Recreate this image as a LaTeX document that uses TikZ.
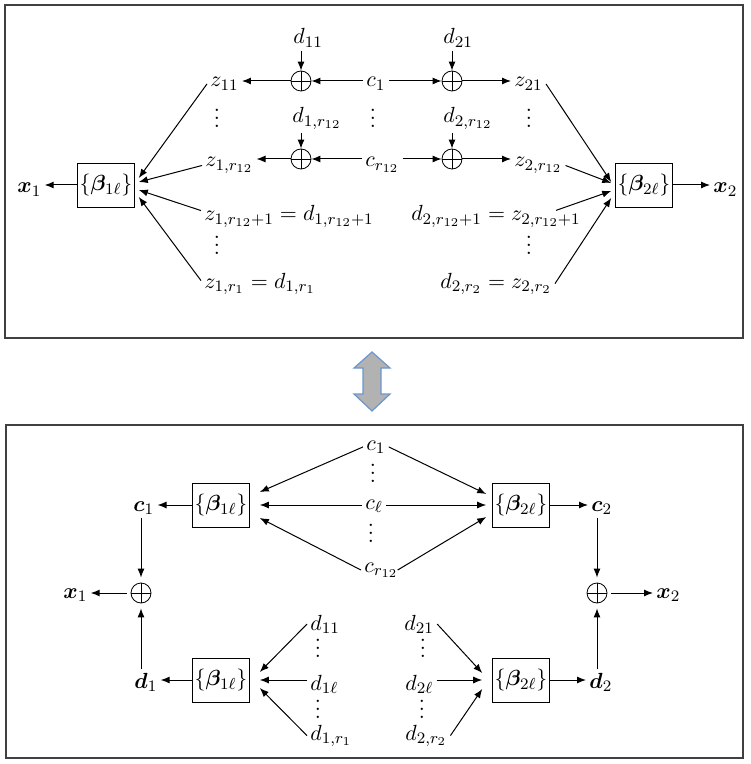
\documentclass[tikz,border=0pt]{standalone}
\usepackage{bm}
\usetikzlibrary{arrows.meta}

\begin{document}
\begin{tikzpicture}[x=0.5pt,y=0.5pt,yscale=-1,xscale=1,
  font=\fontsize{10.95}{13.6}\selectfont,
  lbl/.style={inner sep=1.5pt},
  vdotnode/.style={inner sep=0pt,anchor=base,text height=8.5pt},
  coefbox/.style={draw,minimum width=28pt,minimum height=22pt,inner sep=1pt},
  sumnode/.style={circle,draw,minimum size=10pt,inner sep=0pt,
    path picture={\draw (path picture bounding box.north) -- (path picture bounding box.south)
      (path picture bounding box.west) -- (path picture bounding box.east);}},
  conn/.style={-{Latex[length=4.5pt,width=3.5pt]},line width=0.5pt},
  frame/.style={draw={rgb, 255:red, 64; green, 64; blue, 64 },line width=0.6pt}]
\useasboundingbox (0,0) rectangle (750,764);

%Frames
\draw [frame] (5,5) rectangle (743,338);
\draw [frame] (6,425) rectangle (743,758);

%Shape: Double Arrow
\draw [draw={rgb, 255:red, 108; green, 150; blue, 205 },fill={rgb, 255:red, 178; green, 178; blue, 178 },line width=0.6pt]
  (372,352) -- (390,368) -- (381,368) -- (381,394) -- (390,394) -- (372,411)
  -- (354,394) -- (363,394) -- (363,368) -- (354,368) -- cycle ;

% ---- upper diagram ----
% Text Node
\node [lbl,anchor=base west] (d11) at (290,44) {$d_{11}$};
\node [lbl,anchor=base west] (d21) at (440,44) {$d_{21}$};
\node [lbl,anchor=base west] (z11) at (207,87) {$z_{11}$};
\node [lbl,anchor=base west] (ct1) at (363,87) {$c_1$};
\node [lbl,anchor=base west] (z21) at (511,87) {$z_{21}$};
\node [vdotnode] (vz1) at (217,128) {$\vdots$};
\node [vdotnode] (vct) at (373,128) {$\vdots$};
\node [vdotnode] (vz2) at (529,128) {$\vdots$};
\node [lbl,anchor=base west] (d1r) at (289,123) {$d_{1,r_{12}}$};
\node [lbl,anchor=base west] (d2r) at (440,123) {$d_{2,r_{12}}$};
\node [lbl,anchor=base west] (z1r) at (202,167) {$z_{1,r_{12}}$};
\node [lbl,anchor=base west] (ctr) at (362,167) {$c_{r_{12}}$};
\node [lbl,anchor=base west] (z2r) at (511,167) {$z_{2,r_{12}}$};
\node [lbl,anchor=base west] (zd1) at (201,221) {$z_{1,r_{12}+1}=d_{1,r_{12}+1}$};
\node [lbl,anchor=base east] (dz1) at (584,221) {$d_{2,r_{12}+1}=z_{2,r_{12}+1}$};
\node [vdotnode] (vzd1) at (217,255) {$\vdots$};
\node [vdotnode] (vdz1) at (529,255) {$\vdots$};
\node [lbl,anchor=base west] (zd2) at (201,288) {$z_{1,r_1}=d_{1,r_1}$};
\node [lbl,anchor=base east] (dz2) at (555,288) {$d_{2,r_2}=z_{2,r_2}$};
\node [lbl,anchor=base west] (xt1) at (14,193) {$\bm{x}_1$};
\node [lbl,anchor=base west] (xt2) at (710,193) {$\bm{x}_2$};

% Adders and boxes
\node [sumnode] (sa1) at (301,81) {};
\node [sumnode] (sb1) at (452,81) {};
\node [sumnode] (sa2) at (301,159) {};
\node [sumnode] (sb2) at (452,159) {};
\node [coefbox] (bt1) at (106,185) {$\{\bm{\beta}_{1\ell}\}$};
\node [coefbox] (bt2) at (644,185) {$\{\bm{\beta}_{2\ell}\}$};

%Straight Lines
\draw [conn] (d11.south -| sa1) -- (sa1);
\draw [conn] (d21.south -| sb1) -- (sb1);
\draw [conn] (d1r.south -| sa2) -- (sa2);
\draw [conn] (d2r.south -| sb2) -- (sb2);
\draw [conn] (ct1.west |- sa1) -- (sa1);
\draw [conn] (ct1.east |- sb1) -- (sb1);
\draw [conn] (ctr.west |- sa2) -- (sa2);
\draw [conn] (ctr.east |- sb2) -- (sb2);
\draw [conn] (sa1) -- (z11.east |- sa1);
\draw [conn] (sb1) -- (z21.west |- sb1);
\draw [conn] (sa2) -- (z1r.east |- sa2);
\draw [conn] (sb2) -- (z2r.west |- sb2);
% (yshift runs downwards here, because of yscale=-1)
\draw [conn] (z11.west) -- ([xshift=2pt,yshift=-3.5pt]bt1.east);
\draw [conn] (z1r.west) -- ([xshift=2pt,yshift=-1.5pt]bt1.east);
\draw [conn] ([yshift=-3pt]zd1.west) -- ([xshift=2pt,yshift=2.5pt]bt1.east);
\draw [conn] ([yshift=-1.5pt]zd2.west) -- ([xshift=2pt,yshift=6pt]bt1.east);
\draw [conn] (z21.east) -- ([xshift=-2pt,yshift=-1.5pt]bt2.west);
\draw [conn] (z2r.east) -- ([xshift=-2pt,yshift=-1pt]bt2.west);
\draw [conn] ([xshift=-14pt,yshift=4pt]dz1.north east) -- ([xshift=-2pt,yshift=3pt]bt2.west);
\draw [conn] (dz2.east) -- ([xshift=-2pt,yshift=6.5pt]bt2.west);
\draw [conn] (bt1.west) -- (xt1.east |- bt1.west);
\draw [conn] (bt2.east) -- (xt2.west |- bt2.east);

% ---- lower diagram ----
% Text Node
\node [lbl,anchor=base west] (cl1) at (363,450) {$c_1$};
\node [vdotnode] (vcl1) at (373,482) {$\vdots$};
\node [lbl,anchor=base west] (cll) at (362,509) {$c_\ell$};
\node [vdotnode] (vcl2) at (371,542) {$\vdots$};
\node [lbl,anchor=base west] (clr) at (361,572) {$c_{r_{12}}$};
\node [lbl,anchor=base west] (cb1) at (130,511) {$\bm{c}_1$};
\node [lbl,anchor=base west] (cb2) at (588,511) {$\bm{c}_2$};
\node [lbl,anchor=base west] (xb1) at (60,598) {$\bm{x}_1$};
\node [lbl,anchor=base west] (xb2) at (653,598) {$\bm{x}_2$};
\node [lbl,anchor=base west] (db1) at (131,688) {$\bm{d}_1$};
\node [lbl,anchor=base west] (db2) at (586,688) {$\bm{d}_2$};
\node [lbl,anchor=base west] (dl11) at (307,630) {$d_{11}$};
\node [vdotnode] (vdl1) at (318,657) {$\vdots$};
\node [lbl,anchor=base west] (dl1l) at (307,690) {$d_{1\ell}$};
\node [vdotnode] (vdl2) at (318,718) {$\vdots$};
\node [lbl,anchor=base west] (dl1r) at (307,740) {$d_{1,r_1}$};
\node [lbl,anchor=base west] (dl21) at (401,630) {$d_{21}$};
\node [vdotnode] (vdl3) at (423,657) {$\vdots$};
\node [lbl,anchor=base west] (dl2l) at (402,690) {$d_{2\ell}$};
\node [vdotnode] (vdl4) at (422,718) {$\vdots$};
\node [lbl,anchor=base west] (dl2r) at (402,740) {$d_{2,r_2}$};

% Adders and boxes
\node [sumnode] (sl1) at (141,593) {};
\node [sumnode] (sl2) at (597,593) {};
\node [coefbox] (bc1) at (221,505) {$\{\bm{\beta}_{1\ell}\}$};
\node [coefbox] (bc2) at (521,505) {$\{\bm{\beta}_{2\ell}\}$};
\node [coefbox] (bd1) at (221,680) {$\{\bm{\beta}_{1\ell}\}$};
\node [coefbox] (bd2) at (521,680) {$\{\bm{\beta}_{2\ell}\}$};

%Straight Lines
\draw [conn] (cl1.west) -- ([xshift=5pt,yshift=-6.5pt]bc1.east);
\draw [conn] (cll.west |- bc1.east) -- ([xshift=5pt]bc1.east);
\draw [conn] (clr.west) -- ([xshift=5pt,yshift=6.5pt]bc1.east);
\draw [conn] (cl1.east) -- ([xshift=-3pt,yshift=-5.5pt]bc2.west);
\draw [conn] (cll.east |- bc2.west) -- ([xshift=-3pt]bc2.west);
\draw [conn] ([xshift=-2pt]clr.east) -- ([xshift=-3pt,yshift=6pt]bc2.west);
\draw [conn] (bc1.west) -- (cb1.east |- bc1.west);
\draw [conn] (bc2.east) -- (cb2.west |- bc2.east);
\draw [conn,shorten >=2.5pt] (cb1.south -| sl1) -- (sl1);
\draw [conn,shorten >=2.5pt] (db1.north -| sl1) -- (sl1);
\draw [conn,shorten <=2pt] (sl1) -- (xb1.east |- sl1);
\draw [conn,shorten >=2.5pt] (cb2.south -| sl2) -- (sl2);
\draw [conn,shorten >=2.5pt] (db2.north -| sl2) -- (sl2);
\draw [conn,shorten <=2pt] (sl2) -- (xb2.west |- sl2);
\draw [conn] (bd1.west) -- (db1.east |- bd1.west);
\draw [conn] (bd2.east) -- (db2.west |- bd2.east);
\draw [conn] (dl11.west) -- ([xshift=5pt,yshift=-4pt]bd1.east);
\draw [conn] (dl1l.west |- bd1.east) -- ([xshift=5pt]bd1.east);
\draw [conn] (dl1r.west) -- ([xshift=5pt,yshift=4pt]bd1.east);
\draw [conn] (dl21.east) -- ([xshift=-5pt,yshift=-3.5pt]bd2.west);
\draw [conn] (dl2l.east |- bd2.west) -- ([xshift=-5pt]bd2.west);
\draw [conn] (dl2r.east) -- ([xshift=-5pt,yshift=4.5pt]bd2.west);

\end{tikzpicture}
\end{document}
